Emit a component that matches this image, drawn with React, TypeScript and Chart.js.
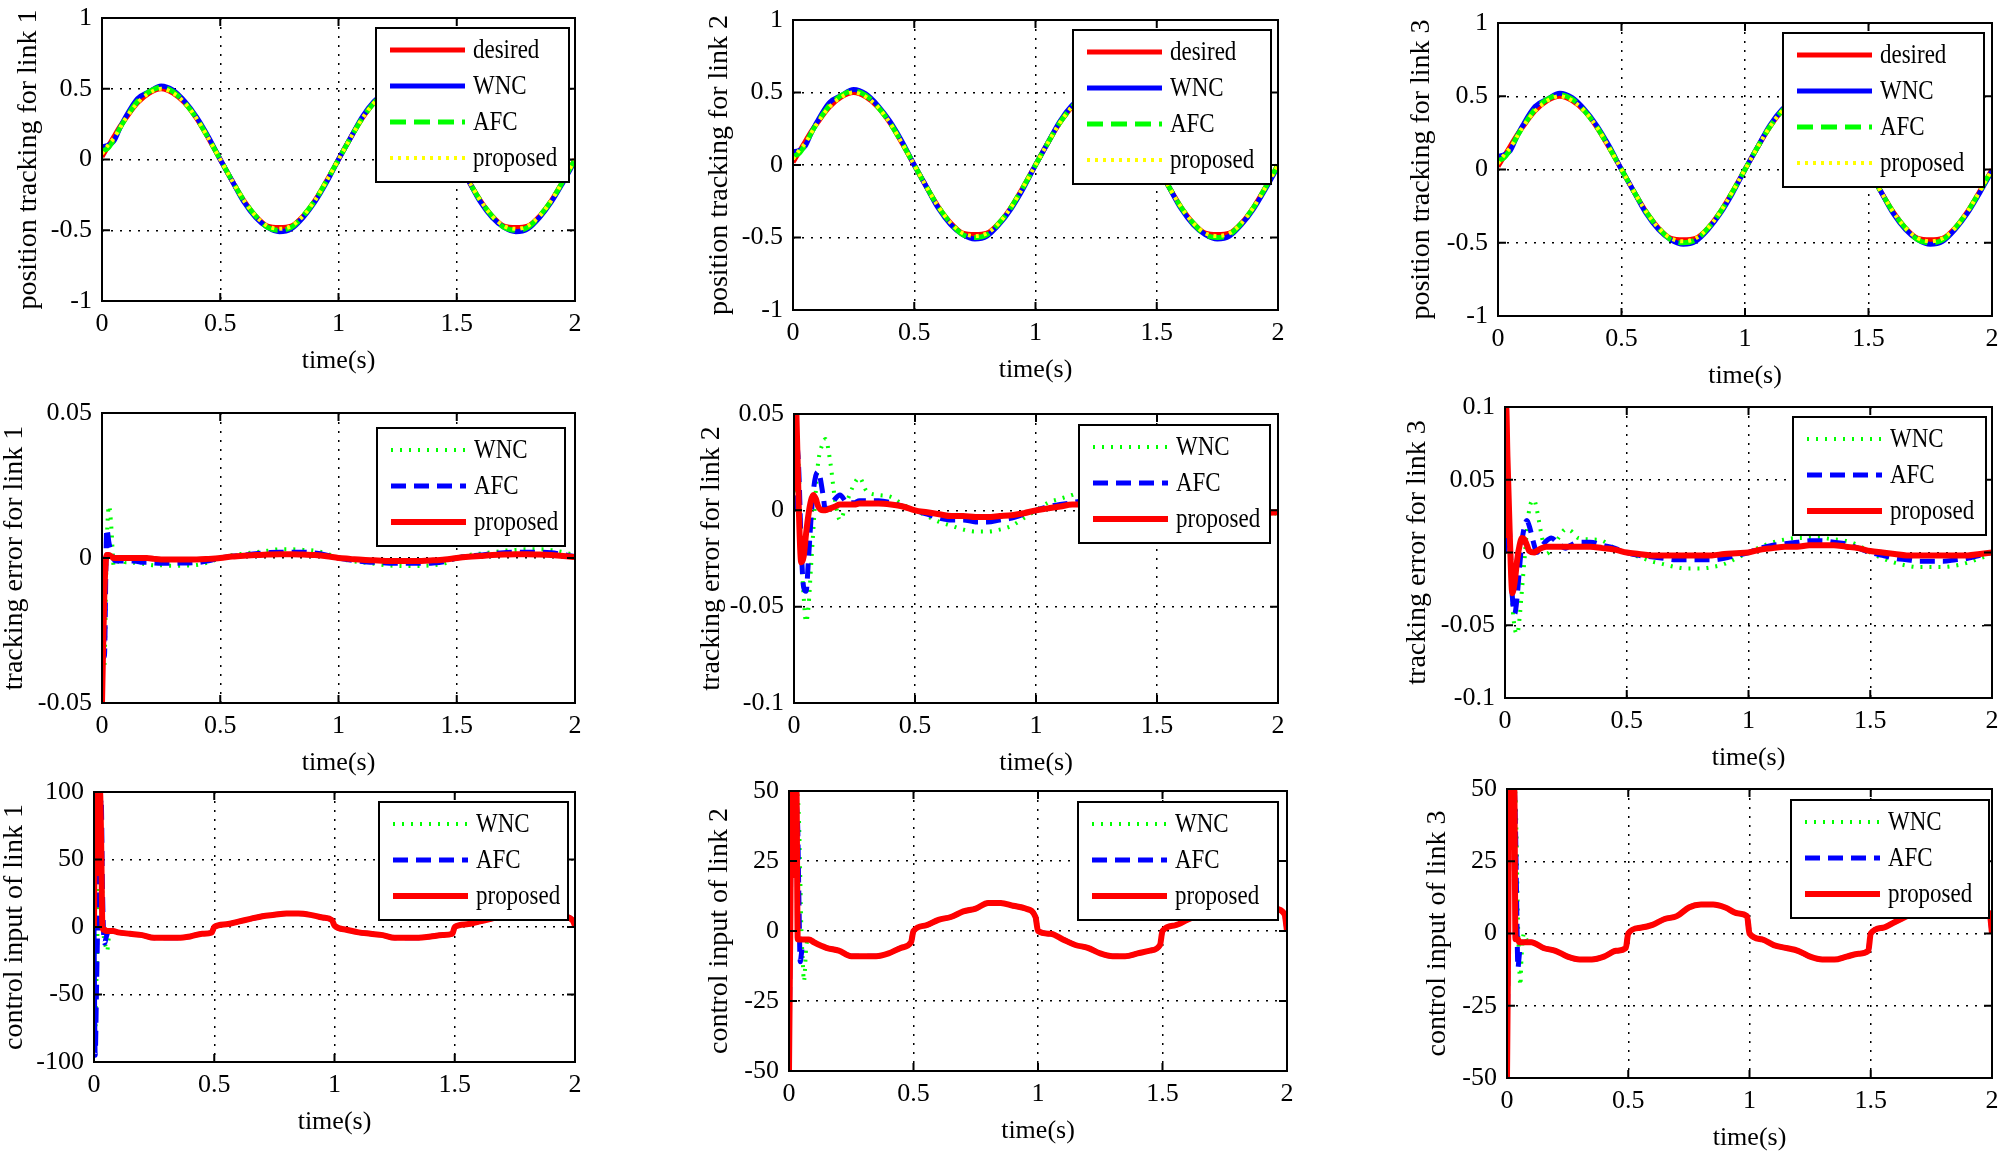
import React, { useEffect, useRef } from "react";
import { Chart, registerables } from "chart.js";

Chart.register(...registerables);

const FONT = '"Liberation Serif", "Times New Roman", serif';

// ---------- time axes ----------
const timeTicks = [0, 0.5, 1, 1.5, 2];
const posT = [0, 0.025, 0.05, 0.075, 0.1, 0.15, 0.2, 0.25, 0.3, 0.35, 0.4, 0.45, 0.5, 0.55, 0.6, 0.65, 0.7, 0.75, 0.8, 0.85, 0.9, 0.95, 1, 1.05, 1.1, 1.15, 1.2, 1.25, 1.3, 1.35, 1.4, 1.45, 1.5, 1.55, 1.6, 1.65, 1.7, 1.75, 1.8, 1.85, 1.9, 1.95, 2];
const errT = [0, 0.005, 0.01, 0.02, 0.03, 0.04, 0.05, 0.06, 0.07, 0.08, 0.09, 0.1, 0.12, 0.13, 0.15, 0.17, 0.19, 0.22, 0.25, 0.27, 0.3, 0.35, 0.4, 0.45, 0.5, 0.55, 0.6, 0.65, 0.7, 0.75, 0.8, 0.85, 0.9, 0.95, 1, 1.05, 1.1, 1.15, 1.2, 1.25, 1.3, 1.35, 1.4, 1.45, 1.5, 1.55, 1.6, 1.65, 1.7, 1.75, 1.8, 1.85, 1.9, 1.95, 2];
const ctrlT = [0, 0.005, 0.01, 0.015, 0.02, 0.025, 0.03, 0.035, 0.04, 0.045, 0.05, 0.055, 0.06, 0.07, 0.08, 0.1, 0.15, 0.2, 0.25, 0.3, 0.35, 0.4, 0.45, 0.49, 0.5, 0.55, 0.6, 0.65, 0.7, 0.75, 0.8, 0.85, 0.9, 0.95, 0.99, 1, 1.05, 1.1, 1.15, 1.2, 1.25, 1.3, 1.35, 1.4, 1.45, 1.49, 1.5, 1.55, 1.6, 1.65, 1.7, 1.75, 1.8, 1.85, 1.9, 1.95, 1.99, 2];

// ---------- y tick labels ----------
const posTicks = [-1, -0.5, 0, 0.5, 1];
const err1Ticks = [-0.05, 0, 0.05];
const err2Ticks = [-0.1, -0.05, 0, 0.05];
const err3Ticks = [-0.1, -0.05, 0, 0.05, 0.1];
const ctrl1Ticks = [-100, -50, 0, 50, 100];
const ctrl23Ticks = [-50, -25, 0, 25, 50];

// ---------- position tracking ----------
const posDesired = [0.02, 0.09, 0.16, 0.23, 0.29, 0.40, 0.47, 0.50, 0.47, 0.40, 0.29, 0.15, 0.00, -0.15, -0.29, -0.40, -0.47, -0.48, -0.47, -0.40, -0.29, -0.15, 0.00, 0.15, 0.29, 0.40, 0.47, 0.50, 0.47, 0.40, 0.29, 0.15, 0.00, -0.15, -0.29, -0.40, -0.47, -0.48, -0.47, -0.40, -0.29, -0.15, 0.00];
const posWNC = [0.09, 0.10, 0.13, 0.22, 0.30, 0.43, 0.48, 0.52, 0.49, 0.41, 0.30, 0.16, 0.00, -0.15, -0.30, -0.41, -0.48, -0.51, -0.49, -0.41, -0.30, -0.16, 0.00, 0.15, 0.30, 0.41, 0.48, 0.52, 0.49, 0.41, 0.30, 0.16, 0.00, -0.15, -0.30, -0.41, -0.48, -0.51, -0.49, -0.41, -0.30, -0.16, -0.01];
const posAFC = [0.06, 0.08, 0.14, 0.22, 0.29, 0.41, 0.48, 0.51, 0.48, 0.40, 0.29, 0.15, 0.00, -0.15, -0.29, -0.40, -0.48, -0.50, -0.48, -0.40, -0.29, -0.15, 0.00, 0.15, 0.29, 0.40, 0.48, 0.51, 0.48, 0.40, 0.29, 0.15, 0.00, -0.15, -0.29, -0.40, -0.48, -0.50, -0.48, -0.40, -0.29, -0.15, 0.00];
const posProp = [0.04, 0.10, 0.15, 0.22, 0.29, 0.40, 0.47, 0.50, 0.47, 0.40, 0.29, 0.15, 0.00, -0.15, -0.29, -0.40, -0.47, -0.49, -0.47, -0.40, -0.29, -0.15, 0.00, 0.15, 0.29, 0.40, 0.47, 0.50, 0.47, 0.40, 0.29, 0.15, 0.00, -0.15, -0.29, -0.40, -0.47, -0.49, -0.47, -0.40, -0.29, -0.15, 0.00];

// ---------- tracking error ----------
const err1WNC = [0, -0.02, -0.037, 0.005, 0.018, 0.01, -0.003, -0.002, -0.001, -0.001, -0.001, -0.0015,
  -0.0015, -0.0015, -0.002, -0.002, -0.0022, -0.0025, -0.0025, -0.0027,
  -0.0027, -0.0026, -0.0024, -0.0015, 0, 0.001, 0.0015, 0.002, 0.0025, 0.003, 0.003, 0.0028, 0.0025, 0.0015, 0,
  -0.001, -0.0015, -0.002, -0.0025, -0.0027, -0.0028, -0.0027, -0.0025, -0.0018, 0, 0.001, 0.0015, 0.002, 0.0025, 0.0028,
  0.003, 0.003, 0.0027, 0.002, 0.001];
const err1AFC = [0, -0.02, -0.034, 0.01, 0.005, 0.002, -0.0005, -0.001, -0.001, -0.001, -0.001, -0.001,
  -0.001, -0.001, -0.0012, -0.0015, -0.0015, -0.0017, -0.0018, -0.0018,
  -0.0018, -0.0017, -0.0016, -0.001, 0, 0.0006, 0.001, 0.0015, 0.0018, 0.002, 0.002, 0.002, 0.0017, 0.001, 0,
  -0.0007, -0.0012, -0.0015, -0.0017, -0.0018, -0.0018, -0.0018, -0.0017, -0.0012, 0, 0.0006, 0.001, 0.0015, 0.0018, 0.002,
  0.002, 0.002, 0.0018, 0.0012, 0.0005];
const err1Prop = [-0.05, -0.03, -0.012, 0.001, 0.001, 0.0005, 0, 0, 0, 0, 0, 0,
  0, 0, 0, 0, 0, -0.0003, -0.0005, -0.0005,
  -0.0005, -0.0005, -0.0005, -0.0003, 0, 0.0005, 0.0008, 0.001, 0.0012, 0.0013, 0.0013, 0.0012, 0.001, 0.0006, 0,
  -0.0003, -0.0006, -0.0008, -0.001, -0.001, -0.001, -0.001, -0.0008, -0.0005, 0, 0.0004, 0.0007, 0.001, 0.0012, 0.0013,
  0.0013, 0.0012, 0.001, 0.0007, 0.0003];

const err2WNC = [0, 0.02, 0.04, 0.02, -0.02, -0.045, -0.058, -0.05, -0.03, -0.01, 0.01, 0.025,
  0.035, 0.037, 0.025, 0.005, -0.005, 0.005, 0.014, 0.017,
  0.01, 0.008, 0.007, 0.003, 0, -0.003, -0.006, -0.008, -0.01, -0.011, -0.011, -0.01, -0.008, -0.004, 0,
  0.004, 0.006, 0.008, 0.01, 0.01, 0.01, 0.009, 0.007, 0.004, 0, -0.004, -0.007, -0.009, -0.01, -0.011,
  -0.011, -0.01, -0.007, -0.004, -0.001];
const err2AFC = [0, 0.02, 0.035, 0.02, -0.02, -0.04, -0.042, -0.025, -0.005, 0.01, 0.018, 0.02,
  0.008, 0, 0.002, 0.006, 0.008, 0.004, 0.004, 0.005,
  0.005, 0.005, 0.004, 0.002, 0, -0.002, -0.004, -0.005, -0.005, -0.006, -0.006, -0.005, -0.004, -0.002, 0,
  0.002, 0.003, 0.004, 0.005, 0.005, 0.005, 0.005, 0.004, 0.002, 0, -0.002, -0.004, -0.005, -0.005, -0.006,
  -0.006, -0.005, -0.004, -0.002, -0.001];
const err2Prop = [0.01, 0.06, 0.05, 0.0, -0.027, -0.024, -0.012, -0.002, 0.005, 0.008, 0.006, 0.002,
  0, 0, 0.001, 0.002, 0.003, 0.003, 0.003, 0.0035,
  0.0035, 0.0035, 0.003, 0.002, 0, -0.001, -0.002, -0.003, -0.003, -0.0035, -0.0035, -0.003, -0.0025, -0.0015, 0,
  0.001, 0.002, 0.003, 0.003, 0.0035, 0.0035, 0.003, 0.0025, 0.0015, 0, -0.001, -0.002, -0.003, -0.003, -0.0035,
  -0.0035, -0.003, -0.0025, -0.0015, -0.001];

const err3WNC = [0, 0.03, 0.035, 0, -0.035, -0.052, -0.056, -0.045, -0.025, -0.005, 0.015, 0.03,
  0.036, 0.03, 0.012, -0.001, 0.002, 0.01, 0.016, 0.015,
  0.01, 0.009, 0.008, 0.003, 0, -0.003, -0.006, -0.008, -0.01, -0.011, -0.011, -0.01, -0.008, -0.004, 0,
  0.004, 0.007, 0.009, 0.01, 0.01, 0.01, 0.009, 0.008, 0.005, 0, -0.004, -0.007, -0.009, -0.01, -0.01,
  -0.01, -0.009, -0.007, -0.004, -0.001];
const err3AFC = [0, 0.02, 0.034, 0.01, -0.03, -0.042, -0.03, -0.01, 0.008, 0.018, 0.022, 0.018,
  0.005, 0, 0.004, 0.008, 0.01, 0.006, 0.003, 0.005,
  0.007, 0.007, 0.005, 0.003, 0, -0.002, -0.003, -0.004, -0.005, -0.005, -0.005, -0.005, -0.004, -0.002, 0,
  0.003, 0.005, 0.006, 0.007, 0.008, 0.008, 0.007, 0.006, 0.003, 0, -0.002, -0.004, -0.005, -0.006, -0.006,
  -0.006, -0.005, -0.004, -0.002, 0];
const err3Prop = [0.01, 0.1, 0.066, 0.01, -0.028, -0.02, -0.005, 0.005, 0.01, 0.009, 0.005, 0.001,
  0, 0.001, 0.003, 0.004, 0.004, 0.004, 0.004, 0.004,
  0.004, 0.004, 0.003, 0.002, 0, -0.001, -0.002, -0.002, -0.002, -0.002, -0.002, -0.002, -0.001, -0.0005, 0,
  0.002, 0.003, 0.004, 0.004, 0.005, 0.005, 0.005, 0.004, 0.003, 0.001, 0, -0.001, -0.002, -0.002, -0.002,
  -0.002, -0.002, -0.002, -0.001, 0];

// ---------- control input ----------
const ctrl1WNC = [0, -80, -40, 0, 40, 70, 80, 20, -5, -12, -15, -18, -10, -3, -3, -4,
  -5, -6, -8, -8, -8, -7, -5, -4,
  0, 2, 4, 6, 8, 9, 10, 10, 9, 7, 5,
  1, -2, -4, -5, -6, -8, -8, -8, -7, -6, -5,
  0, 2, 4, 6, 8, 9, 10, 10, 9, 8, 5,
  1];
const ctrl1AFC = [0, -95, -50, 0, 50, 80, 95, 30, -5, -12, -8, -5, -3, -3, -3, -4,
  -5, -6, -8, -8, -8, -7, -5, -4,
  0, 2, 4, 6, 8, 9, 10, 10, 9, 7, 5,
  1, -2, -4, -5, -6, -8, -8, -8, -7, -6, -5,
  0, 2, 4, 6, 8, 9, 10, 10, 9, 8, 5,
  1];
const ctrl1Prop = [0, 100, 100, 40, 100, 100, 60, 0, -2, -2, -3, -3, -3, -3, -3, -4,
  -5, -6, -8, -8, -8, -7, -5, -4,
  0, 2, 4, 6, 8, 9, 10, 10, 9, 7, 5,
  1, -2, -4, -5, -6, -8, -8, -8, -7, -6, -5,
  0, 2, 4, 6, 8, 9, 10, 10, 9, 8, 5,
  1];

const ctrl2WNC = [-50, 0, 50, 50, 40, 50, 50, 48, 40, 20, 0, -10, -18, -5, -3, -4,
  -6, -7, -9, -9, -9, -8, -6, -4,
  0, 2, 4, 5, 7, 8, 10, 10, 9, 8, 5,
  0, -1, -3, -5, -6, -8, -9, -9, -8, -7, -5,
  0, 2, 4, 6, 8, 9, 10, 10, 9, 8, 6,
  0];
const ctrl2AFC = [-50, 0, 50, 50, 40, 50, 45, 37, 10, -11, -8, -4, -3, -3, -3, -4,
  -6, -7, -9, -9, -9, -8, -6, -4,
  0, 2, 4, 5, 7, 8, 10, 10, 9, 8, 5,
  0, -1, -3, -5, -6, -8, -9, -9, -8, -7, -5,
  0, 2, 4, 6, 8, 9, 10, 10, 9, 8, 6,
  0];
const ctrl2Prop = [-50, 0, 50, 50, 20, 50, 50, -3, -3, -3, -3, -3, -3, -3, -3, -4,
  -6, -7, -9, -9, -9, -8, -6, -4,
  0, 2, 4, 5, 7, 8, 10, 10, 9, 8, 5,
  0, -1, -3, -5, -6, -8, -9, -9, -8, -7, -5,
  0, 2, 4, 6, 8, 9, 10, 10, 9, 8, 6,
  0];

const ctrl3WNC = [-50, 0, 50, 50, 40, 45, 50, 48, 30, 5, -10, -18, -8, 0, -2, -3,
  -5, -6, -8, -9, -9, -8, -6, -5,
  0, 2, 3, 5, 6, 9, 10, 10, 9, 7, 6,
  0, -2, -4, -5, -6, -8, -9, -9, -8, -7, -6,
  0, 2, 4, 6, 8, 9, 10, 10, 9, 8, 7,
  0];
const ctrl3AFC = [-50, 0, 50, 50, 40, 45, 50, 37, 10, -12, -8, -4, -3, -3, -3, -3,
  -5, -6, -8, -9, -9, -8, -6, -5,
  0, 2, 3, 5, 6, 9, 10, 10, 9, 7, 6,
  0, -2, -4, -5, -6, -8, -9, -9, -8, -7, -6,
  0, 2, 4, 6, 8, 9, 10, 10, 9, 8, 7,
  0];
const ctrl3Prop = [-50, 0, 50, 50, 30, 50, 50, -2, -2, -2, -3, -3, -3, -3, -3, -3,
  -5, -6, -8, -9, -9, -8, -6, -5,
  0, 2, 3, 5, 6, 9, 10, 10, 9, 7, 6,
  0, -2, -4, -5, -6, -8, -9, -9, -8, -7, -6,
  0, 2, 4, 6, 8, 9, 10, 10, 9, 8, 7,
  0];

// ---------- styles ----------
const RED = "#ff0000";
const BLUE = "#0000ff";
const GREEN = "#00ff00";
const YELLOW = "#ffff00";

type Series = { label: string; t: number[]; v: number[]; color: string; width: number; dash: number[]; order: number };
type LegendPos = { right: number; top: number; w: number };
type PanelCfg = {
  L: number; R: number; T: number; B: number; yW: number;
  yTitle: string; yTicks: number[]; series: Series[]; legend: LegendPos;
};

const posSeries = (): Series[] => [
  { label: "desired", t: posT, v: posDesired, color: RED, width: 5, dash: [], order: 4 },
  { label: "WNC", t: posT, v: posWNC, color: BLUE, width: 5, dash: [], order: 3 },
  { label: "AFC", t: posT, v: posAFC, color: GREEN, width: 5, dash: [16, 8], order: 2 },
  { label: "proposed", t: posT, v: posProp, color: YELLOW, width: 4, dash: [3, 5], order: 1 },
];
const cmpSeries = (t: number[], w: number[], a: number[], p: number[]): Series[] => [
  { label: "WNC", t, v: w, color: GREEN, width: 4, dash: [2, 7], order: 3 },
  { label: "AFC", t, v: a, color: BLUE, width: 5, dash: [15, 8], order: 2 },
  { label: "proposed", t, v: p, color: RED, width: 6, dash: [], order: 1 },
];

const PAD_T = 16;
const PAD_R = 16;
const X_H = 73;

const panels: PanelCfg[] = [
  { L: 102, R: 575, T: 18, B: 301, yW: 87, yTitle: "position tracking for link 1", yTicks: posTicks, series: posSeries(), legend: { right: 6, top: 10, w: 193 } },
  { L: 793, R: 1278, T: 20, B: 310, yW: 87, yTitle: "position tracking for link 2", yTicks: posTicks, series: posSeries(), legend: { right: 7, top: 10, w: 198 } },
  { L: 1498, R: 1992, T: 23, B: 316, yW: 90, yTitle: "position tracking for link 3", yTicks: posTicks, series: posSeries(), legend: { right: 8, top: 10, w: 201 } },
  { L: 102, R: 575, T: 413, B: 703, yW: 101, yTitle: "tracking error for link 1", yTicks: err1Ticks, series: cmpSeries(errT, err1WNC, err1AFC, err1Prop), legend: { right: 10, top: 15, w: 188 } },
  { L: 794, R: 1278, T: 414, B: 703, yW: 96, yTitle: "tracking error for link 2", yTicks: err2Ticks, series: cmpSeries(errT, err2WNC, err2AFC, err2Prop), legend: { right: 8, top: 11, w: 191 } },
  { L: 1505, R: 1992, T: 407, B: 698, yW: 101, yTitle: "tracking error for link 3", yTicks: err3Ticks, series: cmpSeries(errT, err3WNC, err3AFC, err3Prop), legend: { right: 6, top: 10, w: 193 } },
  { L: 94, R: 575, T: 792, B: 1062, yW: 93, yTitle: "control input of link 1", yTicks: ctrl1Ticks, series: cmpSeries(ctrlT, ctrl1WNC, ctrl1AFC, ctrl1Prop), legend: { right: 7, top: 10, w: 189 } },
  { L: 789, R: 1287, T: 791, B: 1071, yW: 83, yTitle: "control input of link 2", yTicks: ctrl23Ticks, series: cmpSeries(ctrlT, ctrl2WNC, ctrl2AFC, ctrl2Prop), legend: { right: 9, top: 11, w: 200 } },
  { L: 1507, R: 1992, T: 789, B: 1078, yW: 83, yTitle: "control input of link 3", yTicks: ctrl23Ticks, series: cmpSeries(ctrlT, ctrl3WNC, ctrl3AFC, ctrl3Prop), legend: { right: 3, top: 11, w: 198 } },
];

// frame (box + inward ticks) and MATLAB-style legend box drawn inside the axes
const framePlugin = {
  id: "matlabFrame",
  afterDatasetsDraw(chart: any, _args: any, opts: any) {
    const { ctx, chartArea: a } = chart;
    const xs = chart.scales.x;
    const ys = chart.scales.y;
    ctx.save();
    ctx.setLineDash([]);
    ctx.strokeStyle = "#000";
    ctx.lineWidth = 2;
    ctx.strokeRect(a.left, a.top, a.right - a.left, a.bottom - a.top);
    const tl = 8;
    ctx.beginPath();
    xs.ticks.forEach((t: any) => {
      const px = xs.getPixelForValue(t.value);
      ctx.moveTo(px, a.bottom); ctx.lineTo(px, a.bottom - tl);
      ctx.moveTo(px, a.top); ctx.lineTo(px, a.top + tl);
    });
    ys.ticks.forEach((t: any) => {
      const py = ys.getPixelForValue(t.value);
      ctx.moveTo(a.left, py); ctx.lineTo(a.left + tl, py);
      ctx.moveTo(a.right, py); ctx.lineTo(a.right - tl, py);
    });
    ctx.stroke();

    const lg = opts.legend;
    if (lg) {
      const ds = chart.data.datasets;
      const padTop = 22;
      const padBottom = 24;
      const gap = 36;
      const h = padTop + padBottom + gap * (ds.length - 1);
      const bx = a.right - lg.right - lg.w;
      const by = a.top + lg.top;
      ctx.fillStyle = "#fff";
      ctx.fillRect(bx, by, lg.w, h);
      ctx.strokeStyle = "#000";
      ctx.lineWidth = 2;
      ctx.strokeRect(bx, by, lg.w, h);
      ds.forEach((d: any, i: number) => {
        const yy = by + padTop + gap * i;
        ctx.save();
        ctx.strokeStyle = d.borderColor;
        ctx.lineWidth = d.borderWidth;
        ctx.setLineDash(d.borderDash || []);
        ctx.beginPath();
        ctx.moveTo(bx + 14, yy);
        ctx.lineTo(bx + 89, yy);
        ctx.stroke();
        ctx.restore();
        ctx.save();
        ctx.translate(bx + 97, yy + 1);
        ctx.scale(0.82, 1);
        ctx.fillStyle = "#000";
        ctx.font = `28px ${FONT}`;
        ctx.textBaseline = "middle";
        ctx.textAlign = "left";
        ctx.fillText(d.label, 0, 0);
        ctx.restore();
      });
    }
    ctx.restore();
  },
};

const zeroPad = (s: any) => {
  s.paddingLeft = 0;
  s.paddingRight = 0;
  s.paddingTop = 0;
  s.paddingBottom = 0;
};

function makeConfig(p: PanelCfg): any {
  return {
    type: "line",
    data: {
      datasets: p.series.map((s) => ({
        label: s.label,
        data: s.t.map((t, i) => ({ x: t, y: s.v[i] })),
        borderColor: s.color,
        backgroundColor: s.color,
        borderWidth: s.width,
        borderDash: s.dash,
        borderCapStyle: "butt",
        borderJoinStyle: "round",
        pointRadius: 0,
        fill: false,
        cubicInterpolationMode: "monotone",
        order: s.order,
      })),
    },
    options: {
      animation: false,
      responsive: false,
      devicePixelRatio: 1,
      events: [],
      layout: { padding: { left: 0, top: PAD_T, right: PAD_R, bottom: 0 } },
      plugins: {
        legend: { display: false },
        tooltip: { enabled: false },
        matlabFrame: { legend: p.legend },
      },
      scales: {
        x: {
          type: "linear",
          position: "bottom",
          min: 0,
          max: 2,
          afterBuildTicks: (s: any) => { s.ticks = timeTicks.map((v) => ({ value: v })); },
          afterFit: (s: any) => { s.height = X_H; zeroPad(s); },
          ticks: { font: { size: 26, family: FONT }, color: "#000", padding: 8, maxRotation: 0, autoSkip: false, callback: (v: any) => String(v) },
          grid: { color: "#000", lineWidth: 1.5, drawTicks: false },
          border: { display: false, dash: [2, 7] },
          title: { display: true, text: "time(s)", font: { size: 26, family: FONT, lineHeight: 1 }, color: "#000", padding: 0 },
        },
        y: {
          type: "linear",
          position: "left",
          min: p.yTicks[0],
          max: p.yTicks[p.yTicks.length - 1],
          afterBuildTicks: (s: any) => { s.ticks = p.yTicks.map((v) => ({ value: v })); },
          afterFit: (s: any) => { s.width = p.yW; zeroPad(s); },
          ticks: { font: { size: 26, family: FONT }, color: "#000", padding: 10, autoSkip: false, callback: (v: any) => String(v) },
          grid: { color: "#000", lineWidth: 1.5, drawTicks: false },
          border: { display: false, dash: [2, 7] },
          title: { display: true, text: p.yTitle, font: { size: 28, family: FONT, lineHeight: 1 }, color: "#000", padding: 0 },
        },
      },
    },
    plugins: [framePlugin],
  };
}

function Panel({ p }: { p: PanelCfg }) {
  const ref = useRef<HTMLCanvasElement | null>(null);
  useEffect(() => {
    if (!ref.current) return;
    const chart = new Chart(ref.current, makeConfig(p));
    return () => chart.destroy();
  }, [p]);
  const left = p.L - p.yW;
  const top = p.T - PAD_T;
  const w = p.R - p.L + p.yW + PAD_R;
  const h = p.B - p.T + PAD_T + X_H;
  return (
    <canvas
      ref={ref}
      width={w}
      height={h}
      style={{ position: "absolute", left, top, width: w, height: h, display: "block" }}
    />
  );
}

export default function App() {
  return (
    <div style={{ position: "absolute", left: 0, top: 0, width: 2005, height: 1157, background: "#fff", overflow: "hidden" }}>
      {panels.map((p, i) => (
        <Panel key={i} p={p} />
      ))}
    </div>
  );
}
